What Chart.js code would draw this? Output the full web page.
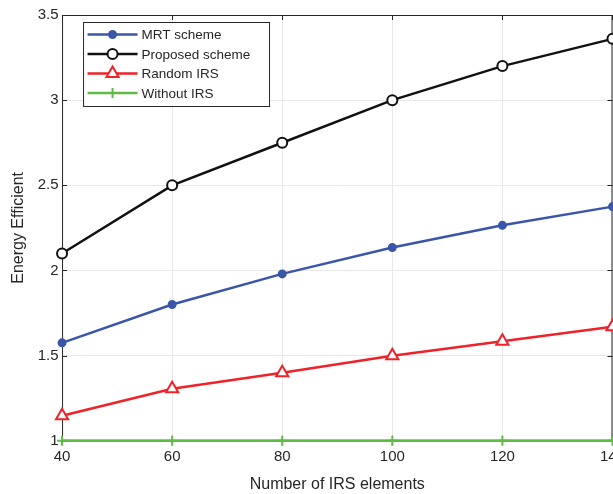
<!DOCTYPE html>
<html>
<head>
<meta charset="utf-8">
<script src="https://cdn.jsdelivr.net/npm/chart.js@4.4.0/dist/chart.umd.min.js"></script>
<style>
  html, body { margin: 0; padding: 0; background: #fff; overflow: hidden; }
  #wrap { position: relative; width: 632px; height: 494px; }
</style>
</head>
<body>
<div id="wrap"><canvas id="myChart"></canvas></div>
<script>
// data
const elements = [40, 60, 80, 100, 120, 140];
const mrtScheme = [1.575, 1.80, 1.98, 2.135, 2.265, 2.375];
const proposedScheme = [2.10, 2.50, 2.75, 3.00, 3.20, 3.36];
const randomIrs = [1.147, 1.305, 1.40, 1.50, 1.585, 1.67];
const withoutIrs = [1, 1, 1, 1, 1, 1];
const yTicks = [1, 1.5, 2, 2.5, 3, 3.5];

function toPoints(vals) {
  return elements.map((x, i) => ({ x: x, y: vals[i] }));
}

const series = [
  { label: 'MRT scheme', data: mrtScheme, color: '#3a56a8', style: 'circle', radius: 3.5, fill: true },
  { label: 'Proposed scheme', data: proposedScheme, color: '#111111', style: 'circle', radius: 5, fill: false },
  { label: 'Random IRS', data: randomIrs, color: '#ee2228', style: 'triangle', radius: 7, fill: false },
  { label: 'Without IRS', data: withoutIrs, color: '#5fba46', style: 'cross', radius: 5, fill: false }
];

// frame and inward ticks, under the lines
const matlabFrame = {
  id: 'matlabFrame',
  beforeDatasetsDraw(chart) {
    const c = chart.ctx;
    const a = chart.chartArea;
    const xs = chart.scales.x, ys = chart.scales.y;
    c.save();
    c.strokeStyle = '#262626';
    c.lineWidth = 1;
    c.strokeRect(a.left + 0.5, a.top + 0.5, a.right - a.left - 1, a.bottom - a.top - 1);
    elements.forEach(v => {
      const px = Math.round(xs.getPixelForValue(v)) + 0.5;
      c.beginPath();
      c.moveTo(px, a.bottom); c.lineTo(px, a.bottom - 5);
      c.moveTo(px, a.top); c.lineTo(px, a.top + 5);
      c.stroke();
    });
    yTicks.forEach(v => {
      const py = Math.round(ys.getPixelForValue(v)) + 0.5;
      c.beginPath();
      c.moveTo(a.left, py); c.lineTo(a.left + 5, py);
      c.moveTo(a.right, py); c.lineTo(a.right - 5, py);
      c.stroke();
    });
    c.restore();
  },
  // legend box in the upper left corner
  afterDraw(chart) {
    const c = chart.ctx;
    const a = chart.chartArea;
    c.save();
    const bx = a.left + 21.5, by = a.top + 7.5, bw = 186, bh = 84;
    c.fillStyle = '#fff';
    c.fillRect(bx, by, bw, bh);
    c.strokeStyle = '#262626';
    c.lineWidth = 1;
    c.strokeRect(bx, by, bw, bh);
    c.font = '13.5px "Liberation Sans", Arial, sans-serif';
    c.textBaseline = 'middle';
    series.forEach((s, i) => {
      const yy = by + 12 + i * 19.5;
      c.strokeStyle = s.color;
      c.lineWidth = 2.5;
      c.beginPath();
      c.moveTo(bx + 4, yy); c.lineTo(bx + 54, yy);
      c.stroke();
      c.fillStyle = s.fill ? s.color : '#fff';
      c.lineWidth = 2;
      Chart.helpers.drawPoint(c, { pointStyle: s.style, radius: s.radius, borderWidth: 2 }, bx + 29, yy);
      c.fillStyle = '#262626';
      c.fillText(s.label, bx + 58, yy + 1);
    });
    c.restore();
  }
};

const fontFamily = '"Liberation Sans", Arial, sans-serif';
const ctx = document.getElementById('myChart').getContext('2d');
new Chart(ctx, {
  type: 'line',
  data: {
    datasets: series.map(s => ({
      label: s.label,
      data: toPoints(s.data),
      borderColor: s.color,
      backgroundColor: s.fill ? s.color : '#ffffff',
      pointBackgroundColor: s.fill ? s.color : '#ffffff',
      pointBorderColor: s.color,
      pointStyle: s.style,
      pointRadius: s.radius,
      pointBorderWidth: 2,
      borderWidth: 2.5,
      tension: 0,
      clip: false
    }))
  },
  options: {
    responsive: true,
    maintainAspectRatio: false,
    animation: false,
    events: [],
    layout: { padding: { top: 15, right: 0, left: 9, bottom: 0 } },
    plugins: {
      legend: { display: false },
      tooltip: { enabled: false }
    },
    scales: {
      x: {
        type: 'linear',
        min: 40,
        max: 140,
        afterBuildTicks: axis => { axis.ticks = elements.map(v => ({ value: v })); },
        grid: { color: '#e8e8e8', drawTicks: false },
        border: { display: false },
        ticks: {
          color: '#262626',
          padding: 7,
          maxRotation: 0,
          font: { family: fontFamily, size: 15 }
        },
        title: {
          display: true,
          text: 'Number of IRS elements',
          color: '#262626',
          padding: { top: 2, bottom: 0 },
          font: { family: fontFamily, size: 16 }
        }
      },
      y: {
        min: 1,
        max: 3.5,
        afterBuildTicks: axis => { axis.ticks = yTicks.map(v => ({ value: v })); },
        grid: { color: '#e8e8e8', drawTicks: false },
        border: { display: false },
        ticks: {
          color: '#262626',
          padding: 3.5,
          font: { family: fontFamily, size: 15 },
          callback: value => String(value)
        },
        title: {
          display: true,
          text: 'Energy Efficient',
          color: '#262626',
          padding: { top: 0, bottom: 6 },
          font: { family: fontFamily, size: 16 }
        }
      }
    }
  },
  plugins: [matlabFrame]
});
</script>
</body>
</html>
